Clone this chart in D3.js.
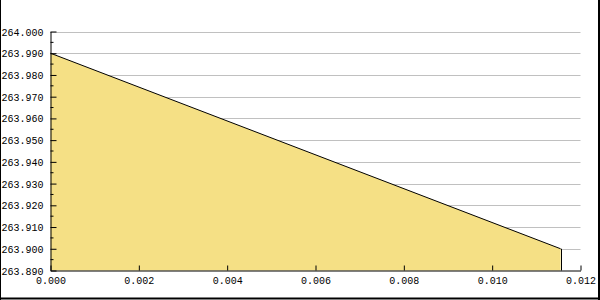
<!DOCTYPE html>
<html>
<head>
<meta charset="utf-8">
<script src="https://cdn.jsdelivr.net/npm/d3@7"></script>
<style>
  body { margin: 0; background: #fff; }
  text { font-family: "Liberation Mono", monospace; font-size: 10px; fill: #000; }
</style>
</head>
<body>
<script>
// data
var xs = [0.0, 0.01155];
var ys = [263.990, 263.900];
var yTicks = [263.89, 263.90, 263.91, 263.92, 263.93, 263.94, 263.95, 263.96, 263.97, 263.98, 263.99, 264.00];
var yMinor = [263.895, 263.905, 263.915, 263.925, 263.935, 263.945, 263.955, 263.965, 263.975, 263.985, 263.995];
var xTicks = [0, 0.002, 0.004, 0.006, 0.008, 0.010, 0.012];

var w = 600, h = 300;
var padL = 50.5, padR = 580.5, padT = 31.5, padB = 270.5;
var fontFam = "'Liberation Mono', monospace";

var svg = d3.select("body").append("svg").attr("width", w).attr("height", h);

var x = d3.scaleLinear().domain([0, 0.012]).range([padL, padR]);
var y = d3.scaleLinear().domain([263.89, 264.0]).range([padB, padT]);

// outer frame (left, right, bottom)
svg.append("line").attr("x1", 0.5).attr("x2", 0.5).attr("y1", 0).attr("y2", h).attr("stroke", "#000");
svg.append("line").attr("x1", 599).attr("x2", 599).attr("y1", 0).attr("y2", h).attr("stroke", "#000").attr("stroke-width", 2);
svg.append("line").attr("x1", 0).attr("x2", w).attr("y1", 298.5).attr("y2", 298.5).attr("stroke", "#000").attr("stroke-width", 2);

// grid
svg.selectAll(".grid").data(yTicks.slice(1)).enter().append("line")
  .attr("x1", padL).attr("x2", padR)
  .attr("y1", d => Math.round(y(d)) + 0.5).attr("y2", d => Math.round(y(d)) + 0.5)
  .attr("stroke", "#c0c0c0");

var pts = xs.map((d, i) => [d, ys[i]]);

svg.append("path").datum(pts)
  .attr("d", d3.area().x(d => x(d[0])).y0(padB).y1(d => y(d[1])))
  .attr("fill", "#f5e085");

svg.append("path").datum(pts)
  .attr("d", d3.line().x(d => x(d[0])).y(d => y(d[1])))
  .attr("fill", "none").attr("stroke", "#000");

// right edge of the area
svg.append("line")
  .attr("x1", Math.round(x(xs[1])) + 0.5).attr("x2", Math.round(x(xs[1])) + 0.5)
  .attr("y1", y(ys[1])).attr("y2", padB)
  .attr("stroke", "#000");

// y axis
var yAxis = svg.append("g").attr("transform", "translate(" + padL + ",0)")
  .call(d3.axisRight(y).tickValues(yTicks).tickSize(6).tickSizeOuter(0).tickFormat(d3.format(".3f")));
yAxis.selectAll("text").attr("x", -7).attr("text-anchor", "end").attr("dy", "0.35em")
  .attr("fill", "#000").style("font-size", "10px").style("font-family", fontFam);
yAxis.selectAll("line").attr("stroke", "#000");
yAxis.select(".domain").attr("stroke", "#000");
yAxis.selectAll(".minor").data(yMinor).enter().append("line")
  .attr("class", "minor")
  .attr("x1", 0).attr("x2", 3)
  .attr("y1", d => y(d)).attr("y2", d => y(d))
  .attr("stroke", "#000");

// x axis
var xAxis = svg.append("g").attr("transform", "translate(0," + padB + ")")
  .call(d3.axisTop(x).tickValues(xTicks).tickSize(5).tickSizeOuter(0).tickFormat(d3.format(".3f")));
xAxis.selectAll("text").attr("y", 13.5).attr("dy", 0).attr("fill", "#000")
  .style("font-size", "10px").style("font-family", fontFam);
xAxis.selectAll("line").attr("stroke", "#000");
xAxis.select(".domain").attr("stroke", "#000");
</script>
</body>
</html>
